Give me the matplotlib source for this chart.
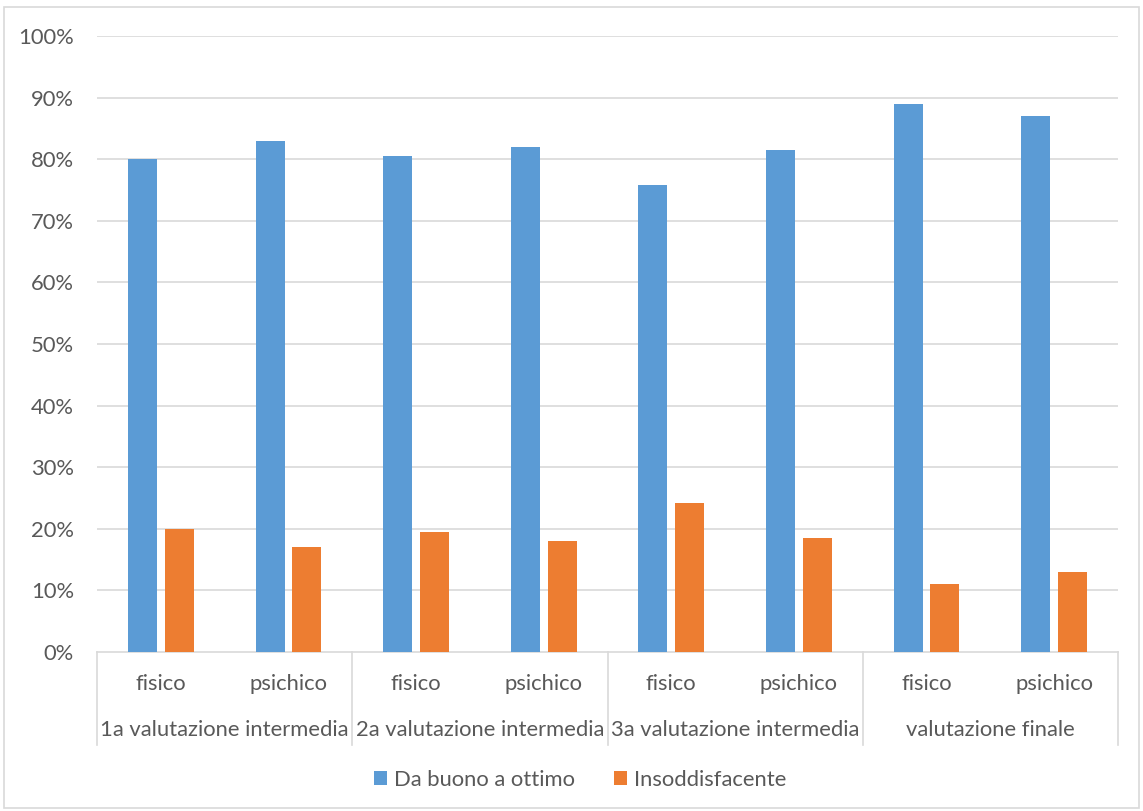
import matplotlib
matplotlib.use("Agg")
import matplotlib.pyplot as plt
from matplotlib.patches import Rectangle, Patch
from matplotlib.lines import Line2D
import numpy as np

# Data
groups = ["1a valutazione intermedia", "2a valutazione intermedia",
          "3a valutazione intermedia", "valutazione finale"]
subcats = ["fisico", "psichico"]
series_names = ["Da buono a ottimo", "Insoddisfacente"]
buono = [80.0, 83.0, 80.5, 82.0, 75.8, 81.5, 88.9, 87.0]
insodd = [20.0, 17.0, 19.5, 18.0, 24.2, 18.5, 11.1, 13.0]
yticks = list(range(0, 101, 10))

BLUE = "#5b9bd5"
ORANGE = "#ed7d31"
GRID = "#d9d9d9"
TEXT = "#595959"
FONT = "Lato"
FS = 15.8

W, H = 1143, 811
fig = plt.figure(figsize=(W / 100, H / 100), dpi=100)
fig.patch.set_facecolor("white")

# chart frame
fig.add_artist(Rectangle((4 / W, 3 / H), (1139 - 4) / W, (804 - 3) / H,
                         transform=fig.transFigure, fill=False,
                         edgecolor=GRID, linewidth=1.2))

left, right, bottom, top = 97, 1118, 652, 36
ax = fig.add_axes([left / W, 1 - bottom / H, (right - left) / W, (bottom - top) / H])

n = len(buono)
x = np.arange(n)
bw = 0.227
off = 0.144
ax.bar(x - off, buono, width=bw, color=BLUE, zorder=3)
ax.bar(x + off, insodd, width=bw, color=ORANGE, zorder=3)

ax.set_xlim(-0.5, n - 0.5)
ax.set_ylim(0, 100)
ax.set_yticks(yticks)
ax.set_yticklabels([f"{v}%" for v in yticks], fontsize=FS, color=TEXT, family=FONT)
ax.tick_params(axis="y", length=0, pad=16.5)
ax.set_xticks([])
for v in yticks[1:]:
    ax.axhline(v, color=GRID, linewidth=1.2, zorder=1)
for s in ["top", "right", "left"]:
    ax.spines[s].set_visible(False)
ax.spines["bottom"].set_color(GRID)
ax.spines["bottom"].set_linewidth(1.2)

# two-level category axis
tr = ax.get_xaxis_transform()
ah = bottom - top
y_sub = -(684 - bottom) / ah
y_grp = -(730 - bottom) / ah
y_sep = -(745 - bottom) / ah
for i in range(n):
    ax.text(i, y_sub, subcats[i % 2], transform=tr, ha="center", va="center",
            fontsize=FS, color=TEXT, family=FONT)
for g, name in enumerate(groups):
    ax.text(2 * g + 0.5, y_grp, name, transform=tr, ha="center", va="center",
            fontsize=FS, color=TEXT, family=FONT)
for b in np.arange(-0.5, n, 2):
    ax.add_line(Line2D([b, b], [0, y_sep], transform=tr, color=GRID,
                       linewidth=1.2, clip_on=False))

handles = [Patch(facecolor=BLUE), Patch(facecolor=ORANGE)]
leg = fig.legend(handles, series_names, loc="center", ncol=2,
                 bbox_to_anchor=(580 / W, 1 - 780 / H), frameon=False,
                 prop={"family": FONT, "size": FS}, handlelength=0.6,
                 handleheight=0.6, handletextpad=0.3, columnspacing=1.8)
for t in leg.get_texts():
    t.set_color(TEXT)

fig.savefig("out.png", dpi=100)
